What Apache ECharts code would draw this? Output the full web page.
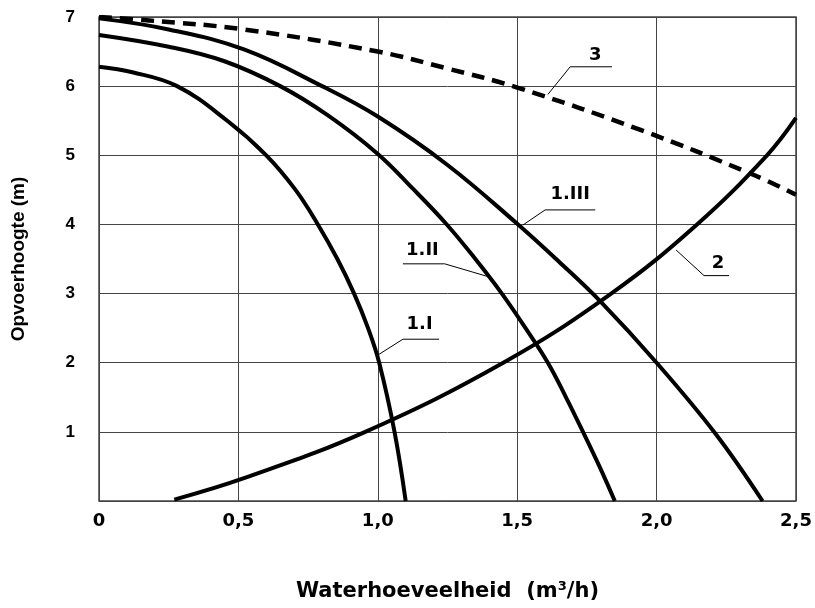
<!DOCTYPE html>
<html lang="nl">

<head>
    <meta charset="UTF-8" />
    <title>Pompkarakteristiek</title>
    <script src="https://cdn.jsdelivr.net/npm/echarts@6.0.0/dist/echarts.min.js"></script>
</head>

<body style="margin:0; background:#fff">
    <div id="main" style="width: 815px; height: 608px"></div>
    <script type="text/javascript">
        // tick labels
        const xTickLabels = ["0", "0,5", "1,0", "1,5", "2,0", "2,5"];
        const yTickLabels = ["", "1", "2", "3", "4", "5", "6", "7"];

        // pump curves 1.I, 1.II, 1.III (Q in m3/h, H in m)
        const q1 = [0, 0.12, 0.28, 0.46, 0.60, 0.705, 0.785, 0.855, 0.915, 0.965, 1.005, 1.06, 1.10];
        const h1 = [6.28, 6.2, 6.0, 5.5, 5.0, 4.5, 4.0, 3.5, 3.0, 2.5, 2.0, 1.0, 0];
        const q2 = [0, 0.25, 0.45, 0.65, 0.82, 1.0, 1.125, 1.245, 1.35, 1.445, 1.53, 1.61, 1.675, 1.736, 1.795, 1.85];
        const h2 = [6.74, 6.57, 6.36, 6.0, 5.58, 5.02, 4.52, 4.01, 3.5, 3.0, 2.5, 2.0, 1.5, 1.0, 0.5, 0];
        const q3 = [0, 0.25, 0.52, 0.8, 1.0, 1.25, 1.5, 1.65, 1.8, 2.0, 2.21, 2.38];
        const h3 = [6.98, 6.82, 6.53, 6.0, 5.56, 4.86, 4.01, 3.46, 2.88, 2.0, 0.98, 0];
        // system curve 2
        const q4 = [0.27, 0.52, 0.955, 1.45, 1.837, 2.145, 2.396, 2.5];
        const h4 = [0.02, 0.33, 1.0, 2.0, 3.0, 4.0, 5.0, 5.54];
        // curve 3 (dashed)
        const q5 = [0, 0.18, 0.52, 1.0, 1.245, 1.5, 1.94, 2.34, 2.5];
        const h5 = [7.0, 6.95, 6.82, 6.50, 6.26, 5.98, 5.37, 4.73, 4.43];

        // annotation labels and their leader lines
        const labelText = ["1.I", "1.II", "1.III", "2", "3"];
        const labelQ = [1.15, 1.16, 1.69, 2.22, 1.78];
        const labelH = [2.55, 3.63, 4.43, 3.44, 6.44];
        const leaderQ = [[1.0, 1.09, 1.22], [1.40, 1.24, 1.09], [1.52, 1.60, 1.78], [2.07, 2.17, 2.26], [1.61, 1.69, 1.84]];
        const leaderH = [[2.11, 2.34, 2.34], [3.24, 3.43, 3.43], [3.99, 4.21, 4.21], [3.63, 3.26, 3.26], [5.88, 6.28, 6.28]];

        const font = "'Liberation Sans', Arial, sans-serif";
        const wideFont = "'DejaVu Sans', sans-serif";
        const zip = (xs, ys) => xs.map((x, i) => [x, ys[i]]);

        function curve(xs, ys, dashed) {
            return {
                type: "line",
                data: zip(xs, ys),
                smooth: 0.4,
                symbol: "none",
                clip: true,
                z: 5,
                lineStyle: {
                    color: "#000",
                    width: dashed ? 4.5 : 4,
                    type: dashed ? [13, 8] : "solid",
                    cap: "butt"
                }
            };
        }

        let series = [
            curve(q1, h1),
            curve(q2, h2),
            curve(q3, h3),
            curve(q4, h4),
            curve(q5, h5, true)
        ];

        for (let i = 0; i < leaderQ.length; i++) {
            series.push({
                type: "line",
                data: zip(leaderQ[i], leaderH[i]),
                symbol: "none",
                z: 6,
                lineStyle: { color: "#000", width: 1 }
            });
        }

        series.push({
            type: "scatter",
            symbolSize: 0,
            z: 7,
            itemStyle: { opacity: 1 },
            data: labelText.map((t, i) => [labelQ[i], labelH[i], t]),
            label: {
                show: true,
                position: "inside",
                formatter: (p) => p.data[2],
                color: "#000",
                opacity: 1,
                textBorderWidth: 0,
                fontFamily: wideFont,
                fontWeight: "bold",
                fontSize: 18
            }
        });

        let options = {
            animation: false,
            backgroundColor: "#fff",
            grid: {
                left: 99,
                right: 19,
                top: 17,
                bottom: 107,
                show: true,
                borderColor: "#444",
                borderWidth: 1.5
            },
            xAxis: {
                type: "value",
                min: 0,
                max: 2.5,
                interval: 0.5,
                name: "Waterhoeveelheid  (m³/h)",
                nameLocation: "middle",
                nameGap: 80,
                nameTextStyle: { color: "#000", fontFamily: wideFont, fontWeight: "bold", fontSize: 21 },
                axisLine: { show: false },
                axisTick: { show: false },
                axisLabel: {
                    margin: 11,
                    color: "#000",
                    fontFamily: wideFont,
                    fontWeight: "bold",
                    fontSize: 18,
                    formatter: (v) => xTickLabels[Math.round(v / 0.5)]
                },
                splitLine: { show: true, lineStyle: { color: "#444", width: 1 } }
            },
            yAxis: {
                type: "value",
                min: 0,
                max: 7,
                interval: 1,
                name: "Opvoerhoogte (m)",
                nameLocation: "middle",
                nameGap: 71,
                nameTextStyle: { color: "#000", fontFamily: font, fontWeight: "bold", fontSize: 19 },
                axisLine: { show: false },
                axisTick: { show: false },
                axisLabel: {
                    margin: 24,
                    color: "#000",
                    fontFamily: font,
                    fontWeight: "bold",
                    fontSize: 17,
                    formatter: (v) => yTickLabels[Math.round(v)]
                },
                splitLine: { show: true, lineStyle: { color: "#444", width: 1 } }
            },
            series: series
        };

        let myChart = echarts.init(document.getElementById("main"));
        myChart.setOption(options);
    </script>
</body>

</html>
